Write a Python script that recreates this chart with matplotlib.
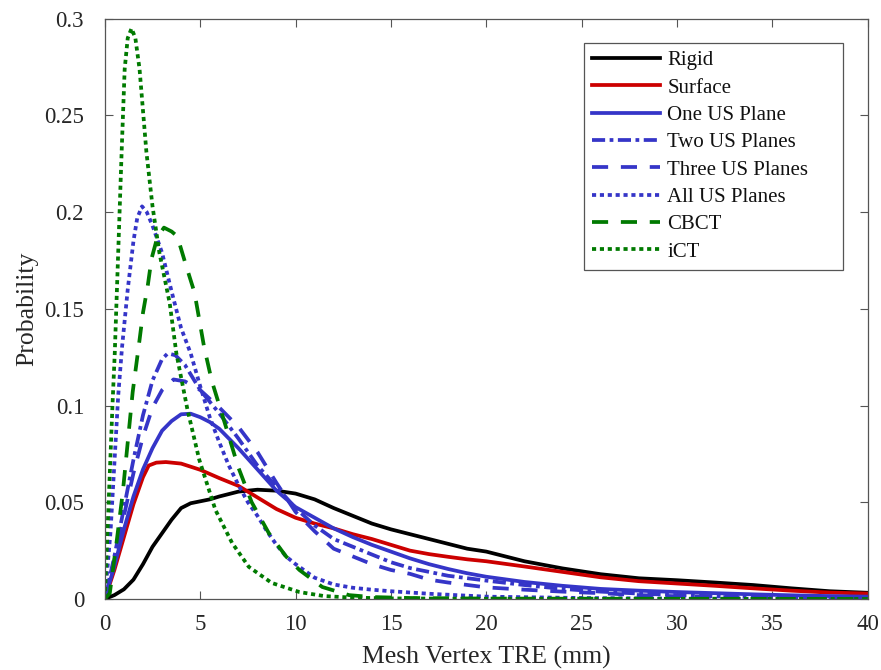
import matplotlib
matplotlib.use("Agg")
import matplotlib.pyplot as plt

# --- data ---
rigid_x = [0, 0.5, 1, 1.5, 2, 2.5, 3, 3.5, 4, 4.5, 5, 5.5, 6, 7, 8, 9, 10, 11, 12, 13, 14, 15,
           16, 17, 18, 19, 20, 22, 24, 26, 28, 30, 32, 34, 36, 38, 40]
rigid_y = [0, 0.002, 0.005, 0.010, 0.018, 0.027, 0.034, 0.041, 0.047, 0.0495, 0.0505, 0.0515,
           0.053, 0.0555, 0.0565, 0.056, 0.0545, 0.0515, 0.047, 0.043, 0.039, 0.036, 0.0335,
           0.031, 0.0285, 0.026, 0.0245, 0.0195, 0.0158, 0.0128, 0.0107, 0.0097, 0.0085,
           0.0072, 0.0055, 0.004, 0.0032]

surface_x = [0, 0.5, 1, 1.5, 2, 2.3, 2.7, 3.2, 4, 5, 6, 7, 8, 9, 10, 11, 12, 13, 14, 15, 16,
             17, 18, 19, 20, 22, 24, 26, 28, 30, 32, 34, 36, 38, 40]
surface_y = [0, 0.015, 0.032, 0.049, 0.063, 0.069, 0.0705, 0.0708, 0.070, 0.0668, 0.0625,
             0.0585, 0.0525, 0.0465, 0.042, 0.039, 0.0365, 0.0335, 0.031, 0.028, 0.025, 0.0232,
             0.0218, 0.0205, 0.0195, 0.0168, 0.014, 0.0112, 0.0092, 0.008, 0.0068, 0.0055,
             0.0043, 0.0033, 0.0028]

one_x = [0, 0.5, 1, 1.5, 2, 2.5, 3, 3.5, 4, 4.5, 5, 5.5, 6, 7, 8, 9, 10, 11, 12, 13, 14, 15,
         16, 17, 18, 19, 20, 22, 24, 26, 28, 30, 32, 34, 36, 38, 40]
one_y = [0, 0.017, 0.036, 0.053, 0.067, 0.078, 0.087, 0.092, 0.0955, 0.0958, 0.094, 0.0915,
         0.088, 0.078, 0.067, 0.056, 0.0475, 0.042, 0.0365, 0.032, 0.028, 0.0245, 0.021,
         0.018, 0.0155, 0.0133, 0.0115, 0.0088, 0.0068, 0.0052, 0.0043, 0.0036, 0.003,
         0.0024, 0.0019, 0.0015, 0.0012]

two_x = [0, 0.5, 1, 1.5, 2, 2.5, 3, 3.3, 3.7, 4.2, 5, 6, 7, 8, 9, 10, 11, 12, 13, 14, 15, 16,
         17, 18, 20, 22, 24, 26, 28, 30, 32, 35, 40]
two_y = [0, 0.022, 0.047, 0.072, 0.095, 0.113, 0.124, 0.127, 0.126, 0.121, 0.108, 0.096,
         0.083, 0.069, 0.058, 0.047, 0.038, 0.031, 0.027, 0.023, 0.019, 0.016, 0.014, 0.012,
         0.0095, 0.0072, 0.0052, 0.0038, 0.0028, 0.002, 0.0014, 0.0008, 0.0003]

three_x = [0, 0.5, 1, 1.5, 2, 2.5, 3, 3.6, 4.2, 5, 6, 7, 8, 9, 10, 11, 12, 13, 14, 15, 16, 17,
           18, 20, 22, 24, 26, 28, 30, 35, 40]
three_y = [0, 0.02, 0.043, 0.065, 0.084, 0.099, 0.108, 0.1135, 0.1125, 0.108, 0.099, 0.089,
           0.076, 0.060, 0.045, 0.035, 0.026, 0.022, 0.018, 0.015, 0.013, 0.010, 0.0085,
           0.006, 0.0048, 0.0038, 0.003, 0.002, 0.0014, 0.0006, 0.0002]

all_x = [0, 0.3, 0.5, 0.7, 0.9, 1.2, 1.5, 1.7, 1.95, 2.2, 2.5, 3.0, 3.5, 4.0, 4.5, 5, 5.5, 6,
         6.5, 7, 7.5, 8, 8.5, 9, 9.5, 10, 11, 12, 13, 14, 15, 17, 20, 25, 30, 40]
all_y = [0, 0.035, 0.07, 0.105, 0.13, 0.16, 0.185, 0.197, 0.203, 0.2, 0.193, 0.179, 0.159,
         0.14, 0.127, 0.11, 0.094, 0.081, 0.069, 0.059, 0.05, 0.043, 0.035, 0.028, 0.022,
         0.018, 0.011, 0.0075, 0.0058, 0.0048, 0.004, 0.0027, 0.0012, 0.0005, 0.0002, 0]

cbct_x = [0, 0.26, 0.61, 0.94, 1.2, 1.46, 1.82, 2.0, 2.25, 2.45, 2.75, 3.1, 3.5, 3.8, 4.27,
          4.7, 5.2, 5.6, 6.35, 7.0, 7.7, 8.6, 9.5, 10.2, 11.4, 12.8, 14, 16, 20, 40]
cbct_y = [0, 0.003, 0.029, 0.055, 0.081, 0.107, 0.134, 0.148, 0.162, 0.176, 0.187, 0.192,
          0.19, 0.1875, 0.172, 0.1585, 0.1305, 0.113, 0.089, 0.068, 0.050, 0.034, 0.022,
          0.015, 0.0062, 0.002, 0.001, 0.0005, 0.0002, 0]

ict_x = [0, 0.2, 0.4, 0.52, 0.7, 0.88, 1.04, 1.2, 1.4, 1.6, 1.82, 2.18, 2.5, 2.86, 3.4, 3.75,
         4.33, 4.95, 5.8, 6.67, 7.55, 8.75, 10.2, 11.5, 13, 15, 20, 40]
ict_y = [0, 0.05, 0.1, 0.127, 0.179, 0.231, 0.274, 0.29, 0.295, 0.29, 0.274, 0.231, 0.203,
         0.179, 0.153, 0.127, 0.098, 0.072, 0.046, 0.029, 0.0166, 0.0083, 0.0036, 0.0015,
         0.0007, 0.0003, 0.0001, 0]

x_ticks = [0, 5, 10, 15, 20, 25, 30, 35, 40]
y_ticks = [0, 0.05, 0.1, 0.15, 0.2, 0.25, 0.3]
y_tick_labels = ["0", "0.05", "0.1", "0.15", "0.2", "0.25", "0.3"]

black = "#000000"
red = "#cc0000"
blue = "#3535c8"
green = "#007a00"

dotted = (0, (1.1, 1.0))
dashed = (0, (4.3, 3.4))
dashdot = (0, (3.5, 1.2, 1.0, 1.2))

plt.rcParams["font.family"] = ["Liberation Serif", "DejaVu Serif"]
txt = "#262626"

fig = plt.figure(figsize=(8.81, 6.70), dpi=100)
ax = fig.add_axes([0.119, 0.106, 0.866, 0.866])

lw = 2.7
ax.plot(rigid_x, rigid_y, color=black, lw=lw, label="Rigid")
ax.plot(surface_x, surface_y, color=red, lw=lw, label="Surface")
ax.plot(one_x, one_y, color=blue, lw=lw, label="One US Plane")
ax.plot(two_x, two_y, color=blue, lw=lw, ls=dashdot, label="Two US Planes")
ax.plot(three_x, three_y, color=blue, lw=lw, ls=dashed, label="Three US Planes")
ax.plot(all_x, all_y, color=blue, lw=lw, ls=dotted, label="All US Planes")
ax.plot(cbct_x, cbct_y, color=green, lw=lw, ls=dashed, label="CBCT")
ax.plot(ict_x, ict_y, color=green, lw=lw, ls=dotted, label="iCT")

ax.set_xlim(0, 40)
ax.set_ylim(0, 0.3)
ax.set_xticks(x_ticks)
ax.set_xticklabels([str(t) for t in x_ticks])
ax.set_yticks(y_ticks)
ax.set_yticklabels(y_tick_labels)
ax.tick_params(direction="in", length=6, width=0.8, top=True, right=True,
               labelsize=16.5, colors="#555555", labelcolor=txt)
ax.tick_params(axis="y", pad=15)
ax.tick_params(axis="x", pad=11)
for s in ax.spines.values():
    s.set_color("#555555")
    s.set_linewidth(0.9)

ax.set_xlabel("Mesh Vertex TRE (mm)", fontsize=18.5, color=txt, labelpad=8)
ax.set_ylabel("Probability", fontsize=18.5, color=txt, labelpad=4)

# legend box stretched to the reference frame width
leg = ax.legend(loc="upper left", bbox_to_anchor=(0.628, 0.959, 0.34, 0.0), mode="expand",
                borderaxespad=0, fontsize=15, handlelength=3.27, handletextpad=0.33,
                labelspacing=0.37, fancybox=False, framealpha=1, edgecolor="#555555",
                borderpad=0.4)
leg.get_frame().set_linewidth(0.9)
for t in leg.get_texts():
    t.set_color("#111111")

fig.savefig("out.png", dpi=100)
